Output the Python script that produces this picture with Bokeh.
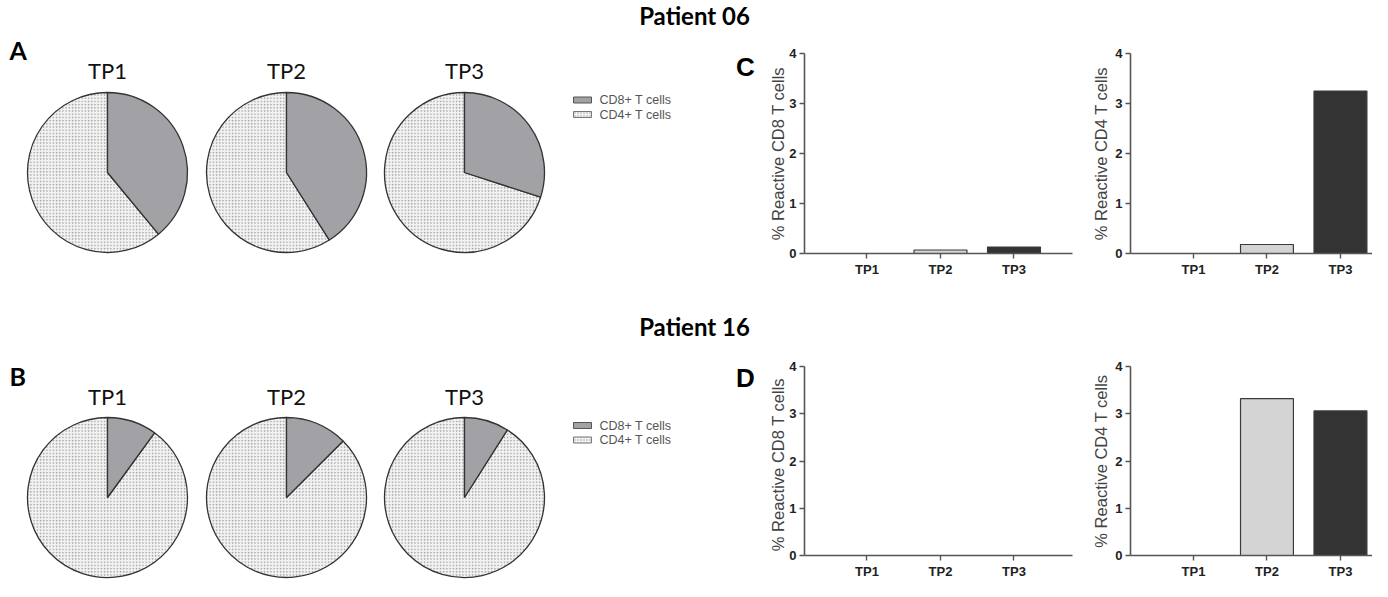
import math
from bokeh.plotting import figure
from bokeh.layouts import row, column
from bokeh.models import Range1d, FixedTicker, ColumnDataSource
from bokeh.core.properties import value
from bokeh.embed import file_html
from bokeh.resources import INLINE

# ---------------- data ----------------
categories = ["TP1", "TP2", "TP3"]
legend_labels = ["CD8+ T cells", "CD4+ T cells"]
p06_cd8_share = [39, 41, 30]
p06_cd4_share = [61, 59, 70]
p16_cd8_share = [10, 12.5, 9]
p16_cd4_share = [90, 87.5, 91]
p06_reactive_cd8 = [0, 0.07, 0.13]
p06_reactive_cd4 = [0, 0.18, 3.25]
p16_reactive_cd8 = [0, 0, 0]
p16_reactive_cd4 = [0, 3.32, 3.06]
y_ticks = [0, 1, 2, 3, 4]
bar_colors = ["#ffffff", "#d4d4d4", "#333333"]
ylabel_cd8 = "% Reactive CD8 T cells"
ylabel_cd4 = "% Reactive CD4 T cells"

CD8_COL = "#a2a2a6"
CD4_BG = "#f3f3f3"
EDGE = "#333333"
HEAD_FONT = "Lato"
AX_FONT = "'Liberation Sans Narrow', 'Arial Narrow', 'Liberation Sans'"
YLAB_SIZE = "16.5px"

# ---------------- left panel (pies, titles, letters) ----------------
W0, H0 = 786, 581
left = figure(width=W0, height=H0, x_range=Range1d(0, W0), y_range=Range1d(0, H0),
              output_backend="svg", toolbar_location=None,
              x_axis_location=None, y_axis_location=None, min_border=0)
left.outline_line_color = None
left.xgrid.visible = False
left.ygrid.visible = False

def Y(top_y):
    return H0 - top_y

pie_cx = [107, 286, 464]
R = 80

def add_pies(cd8, cd4, cy, label_y, legend_y, title, title_y, letter, letter_y):
    tot = [a + b for a, b in zip(cd8, cd4)]
    top = math.pi / 2
    s8 = ColumnDataSource(dict(x=pie_cx, y=[Y(cy)] * 3,
                               start=[top - 2 * math.pi * a / t for a, t in zip(cd8, tot)],
                               end=[top] * 3))
    s4 = ColumnDataSource(dict(x=pie_cx, y=[Y(cy)] * 3,
                               start=[top] * 3,
                               end=[top + 2 * math.pi * b / t for b, t in zip(cd4, tot)]))
    left.wedge(x="x", y="y", radius=R, start_angle="start", end_angle="end", source=s4,
               fill_color=CD4_BG, hatch_pattern="dot", hatch_color="#9c9c9c", hatch_scale=3.2,
               hatch_weight=0.9, line_color=EDGE, line_width=1.3)
    left.wedge(x="x", y="y", radius=R, start_angle="start", end_angle="end", source=s8,
               fill_color=CD8_COL, line_color=EDGE, line_width=1.3)
    left.text(x=pie_cx, y=[Y(label_y)] * 3, text=categories, text_font=value(HEAD_FONT),
              text_font_size="22px", text_align="center", text_baseline="middle", text_color="#111111")
    lx = 582
    gap = 14.5
    left.rect(x=[lx], y=[Y(legend_y)], width=18, height=6, fill_color=CD8_COL,
              line_color="#555555", line_width=1)
    left.rect(x=[lx], y=[Y(legend_y + gap)], width=18, height=6, fill_color=CD4_BG,
              hatch_pattern="dot", hatch_color="#9c9c9c", hatch_scale=3, hatch_weight=0.8,
              line_color="#777777", line_width=1)
    left.text(x=[599, 599], y=[Y(legend_y), Y(legend_y + gap)], text=legend_labels,
              text_font=value("Liberation Sans"), text_font_size="12.5px", text_baseline="middle",
              text_color="#555555")
    left.text(x=[694], y=[Y(title_y)], text=[title], text_font=value(HEAD_FONT),
              text_font_style="bold", text_font_size="24px", text_align="center",
              text_baseline="middle", text_color="#000000")
    left.text(x=[9], y=[Y(letter_y)], text=[letter], text_font=value(HEAD_FONT),
              text_font_style="bold", text_font_size="25px", text_align="left",
              text_baseline="middle", text_color="#000000")

add_pies(p06_cd8_share, p06_cd4_share, 172, 70, 99.5, "Patient 06", 15, "A", 49)
add_pies(p16_cd8_share, p16_cd4_share, 497, 396, 425, "Patient 16", 326, "B", 375)

# panel letters C / D and the y-axis titles of the left bar column
left.text(x=[745, 745], y=[Y(66), Y(377)], text=["C", "D"], text_font=value("Liberation Sans"),
          text_font_style="bold", text_font_size="26px", text_align="center",
          text_baseline="middle", text_color="#000000")
left.text(x=[777, 777], y=[Y(153), Y(464)], text=[ylabel_cd8, ylabel_cd8], angle=math.pi / 2,
          text_font=value("Liberation Sans"), text_font_size=YLAB_SIZE, text_align="center",
          text_baseline="middle", text_color="#444444")

# ---------------- bar charts ----------------
def bar_chart(vals, ylabel, width, height, mb_left, mb_right, mb_top, mb_bottom, xr):
    p = figure(width=width, height=height, x_range=Range1d(*xr), y_range=Range1d(0, 4),
               output_backend="svg", toolbar_location=None,
               min_border_left=mb_left, min_border_right=mb_right,
               min_border_top=mb_top, min_border_bottom=mb_bottom)
    p.outline_line_color = None
    p.xgrid.visible = False
    p.ygrid.visible = False
    xs = [i + 1 for i in range(len(categories))]
    p.vbar(x=xs, top=vals, width=0.72, fill_color=bar_colors, line_color="#3a3a3a", line_width=1.2)
    p.xaxis.ticker = FixedTicker(ticks=xs)
    p.xaxis.major_label_overrides = {x: c for x, c in zip(xs, categories)}
    p.yaxis.ticker = FixedTicker(ticks=y_ticks)
    for ax in (p.xaxis[0], p.yaxis[0]):
        ax.axis_line_color = "#555555"
        ax.axis_line_width = 1.6
        ax.major_tick_line_color = "#555555"
        ax.major_tick_line_width = 1.4
        ax.major_tick_out = 5
        ax.major_tick_in = 0
        ax.minor_tick_line_color = None
        ax.major_label_text_font = AX_FONT
        ax.major_label_text_font_style = "bold"
        ax.major_label_text_font_size = "13px"
        ax.major_label_text_color = "#222222"
        ax.major_label_standoff = 3
    if ylabel:
        p.yaxis.axis_label = ylabel
        p.yaxis.axis_label_text_font = "Liberation Sans"
        p.yaxis.axis_label_text_font_style = "normal"
        p.yaxis.axis_label_text_font_size = YLAB_SIZE
        p.yaxis.axis_label_text_color = "#444444"
        p.yaxis.axis_label_standoff = 2
    return p

XR1 = (0.150, 3.796)
XR2 = (0.143, 3.436)
c1 = bar_chart(p06_reactive_cd8, None, 299, 300, 18, 13, 53, 47, XR1)
c2 = bar_chart(p06_reactive_cd4, ylabel_cd4, 287, 300, 45, 0, 53, 47, XR2)
d1 = bar_chart(p16_reactive_cd8, None, 299, 281, 18, 13, 66, 20, XR1)
d2 = bar_chart(p16_reactive_cd4, ylabel_cd4, 287, 281, 45, 0, 66, 20, XR2)

layout = row(left, column(row(c1, c2), row(d1, d2)))
open("out.html", "w").write(file_html(layout, INLINE))
